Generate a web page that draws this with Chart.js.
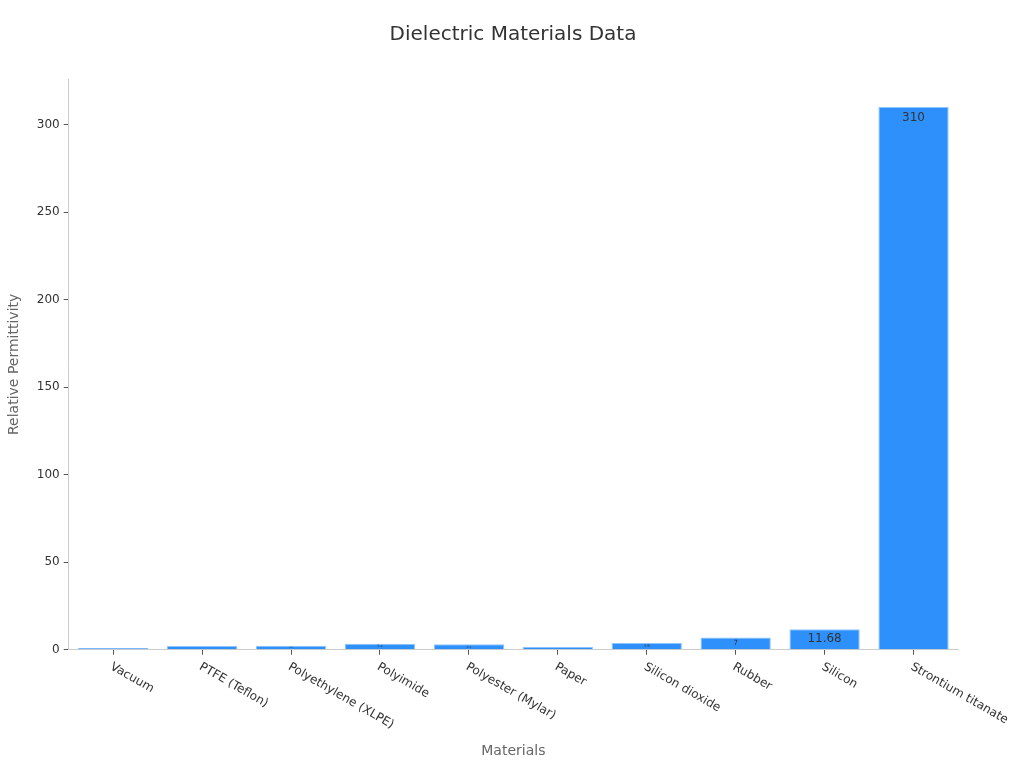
<!DOCTYPE html>
<html>
<head>
<meta charset="utf-8">
<script src="https://cdn.jsdelivr.net/npm/chart.js@4/dist/chart.umd.min.js"></script>
<style>
  html, body { margin: 0; padding: 0; background: #fff; }
  #wrap { width: 1024px; height: 768px; }
</style>
</head>
<body>
<div id="wrap"><canvas id="chart"></canvas></div>
<script>
const materials = ['Vacuum', 'PTFE (Teflon)', 'Polyethylene (XLPE)', 'Polyimide', 'Polyester (Mylar)',
  'Paper', 'Silicon dioxide', 'Rubber', 'Silicon', 'Strontium titanate'];
const permittivity = [1, 2.1, 2.3, 3.4, 3.1, 1.5, 3.9, 7, 11.68, 310];
const yTicks = [0, 50, 100, 150, 200, 250, 300];

const FONT = "'DejaVu Sans', sans-serif";

// labels inside the top of each bar, shrinking on short bars
const barLabels = {
  id: 'barLabels',
  afterDatasetsDraw(chart) {
    const ctx = chart.ctx;
    const meta = chart.getDatasetMeta(0);
    ctx.save();
    ctx.fillStyle = '#333';
    ctx.textAlign = 'center';
    ctx.textBaseline = 'middle';
    meta.data.forEach((bar, i) => {
      const h = bar.base - bar.y;
      const size = Math.min(12, h * 0.6);
      if (size < 2) return;
      ctx.font = size + 'px ' + FONT;
      const y = h > 20 ? bar.y + 11 : bar.y + h / 2;
      ctx.fillText(String(permittivity[i]), bar.x, y);
    });
    ctx.restore();
  }
};

// x labels rotated clockwise, starting at the tick
const xLabels = {
  id: 'xLabels',
  afterDraw(chart) {
    const ctx = chart.ctx;
    const x = chart.scales.x;
    ctx.save();
    ctx.fillStyle = '#333';
    ctx.font = '12px ' + FONT;
    ctx.textAlign = 'left';
    ctx.textBaseline = 'top';
    materials.forEach((m, i) => {
      ctx.save();
      ctx.translate(x.getPixelForTick(i) + 1, x.top + 11);
      ctx.rotate(Math.PI / 6);
      ctx.fillText(m, 0, 0);
      ctx.restore();
    });
    ctx.restore();
  }
};

new Chart(document.getElementById('chart'), {
  type: 'bar',
  data: {
    labels: materials,
    datasets: [{
      data: permittivity,
      backgroundColor: '#2e90fa',
      borderColor: '#8cc4ff',
      borderWidth: 1,
      barPercentage: 0.79,
      categoryPercentage: 1
    }]
  },
  options: {
    responsive: true,
    maintainAspectRatio: false,
    animation: false,
    layout: { padding: { left: 2, right: 0, top: 13, bottom: 4 } },
    plugins: {
      legend: { display: false },
      tooltip: { enabled: false },
      title: {
        display: true,
        text: 'Dielectric Materials Data',
        color: '#333',
        font: { family: FONT, size: 20, weight: 'normal' },
        padding: { top: 10, bottom: 32 }
      }
    },
    scales: {
      x: {
        grid: { display: true, offset: false, drawOnChartArea: false, drawTicks: true, tickLength: 5, color: '#555' },
        border: { color: '#ccc' },
        ticks: { color: 'rgba(0,0,0,0)', font: { family: FONT, size: 12 }, minRotation: 30, maxRotation: 30 },
        title: { display: true, text: 'Materials', color: '#666', font: { family: FONT, size: 14 }, padding: { top: 10 } }
      },
      y: {
        min: 0,
        max: 326,
        afterBuildTicks(scale) { scale.ticks = yTicks.map(v => ({ value: v })); },
        grid: { display: true, drawOnChartArea: false, drawTicks: true, tickLength: 5, color: '#555' },
        border: { color: '#ccc' },
        ticks: { color: '#333', font: { family: FONT, size: 12 }, padding: 4 },
        title: { display: true, text: 'Relative Permittivity', color: '#666', font: { family: FONT, size: 14 }, padding: { bottom: 10 } }
      },
      // empty right gutter so the title stays centred on the page
      gutter: {
        type: 'linear',
        position: 'right',
        display: true,
        grid: { display: false },
        border: { display: false },
        ticks: { display: false },
        afterFit(scale) { scale.width = 66; }
      }
    }
  },
  plugins: [barLabels, xLabels]
});
</script>
</body>
</html>
